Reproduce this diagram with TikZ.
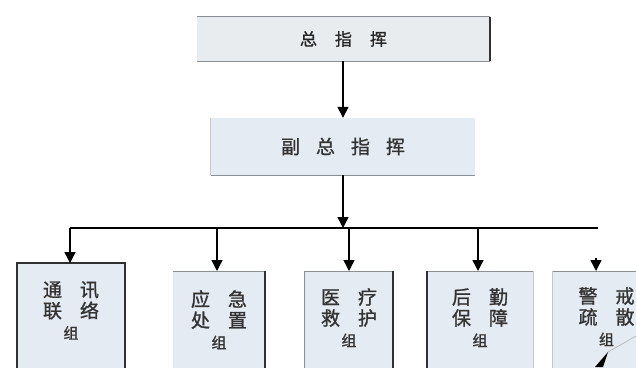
\documentclass[tikz,border=0pt]{standalone}
\usepackage{fontspec}
\newfontfamily\cjk[AutoFakeBold=1.2]{Noto Sans CJK SC}
\usetikzlibrary{arrows.meta}
\definecolor{boxfill}{HTML}{E5EBF2}
\definecolor{topfill}{HTML}{E9ECEF}
\definecolor{edgegray}{HTML}{8A8F96}
\definecolor{edgedark}{HTML}{303030}
\newcommand{\gapp}{\hspace{18pt}}
\newcommand{\zu}{{\fontsize{15pt}{17pt}\selectfont 组}}
\begin{document}
\begin{tikzpicture}[x=1pt,y=-1pt,
  arr/.style={line width=1.4pt, draw=black, -{Triangle[width=11pt,length=11pt]}},
  plainline/.style={line width=1.4pt, draw=black},
  headbox/.style={rectangle, fill=topfill, draw=none, inner sep=0pt, font=\cjk\bfseries\fontsize{17pt}{20pt}\selectfont, text=black!85},
  subbox/.style={rectangle, fill=boxfill, draw=none, inner sep=0pt, font=\cjk\bfseries\fontsize{19pt}{22pt}\selectfont, text=black!80},
  grpbox/.style={rectangle, fill=boxfill, draw=none, inner sep=0pt, minimum height=110pt, anchor=north},
  grptext/.style={align=center, inner sep=0pt, font=\cjk\bfseries\fontsize{19pt}{21pt}\selectfont, text=black!80},
  edgeL/.style={draw=edgegray, line width=0.8pt},
  edgeD/.style={draw=edgedark, line width=1.8pt}
]
\useasboundingbox (0,0) rectangle (636,367);

% top box
\node[headbox, minimum width=293pt, minimum height=44pt] (top) at (343.5,39) {总\hspace{18pt}指\hspace{18pt}挥};
\draw[edgeL] (top.north west) -- (top.north east);
\draw[edgeL] (top.south west) -- (top.south east);
\draw[edgeD] (top.north east) -- (top.south east);

% sub box
\node[subbox, minimum width=264pt, minimum height=57pt] (sub) at (343,146.5) {副\hspace{16pt}总\hspace{16pt}指\hspace{16pt}挥};
\draw[edgeL] (sub.south west) -- (sub.south east);
\draw[edgeL, draw=edgegray!50] (sub.north west) -- (sub.south west);

% bus
\coordinate (bus) at (343,228);
\coordinate (d1) at (70,228);
\coordinate (d2) at (217,228);
\coordinate (d3) at (349,228);
\coordinate (d4) at (478,228);
\coordinate (d5) at (598,228);

\draw[arr] (top.south -| bus) -- (sub.north -| bus);
\draw[arr] (sub.south -| bus) -- (bus);
\draw[plainline] (d1) -- (d5);

% group boxes
\node[grpbox, minimum width=108pt] (b1) at (71,263) {};
\node[grpbox, minimum width=92pt]  (b2) at (219,271) {};
\node[grpbox, minimum width=88pt]  (b3) at (349,271) {};
\node[grpbox, minimum width=106pt] (b4) at (480,271) {};
\node[grpbox, minimum width=107pt] (b5) at (606.5,271) {};

% borders
\draw[edgeD] (b1.south west) -- (b1.north west) -- (b1.north east) -- (b1.south east);
\draw[edgeL] (b2.north west) -- (b2.north east);
\draw[edgeD] (b2.north east) -- (b2.south east);
\draw[edgeL] (b3.north west) -- (b3.north east);
\draw[edgeL] (b3.north west) -- (b3.south west);
\draw[edgeD] (b3.north east) -- (b3.south east);
\draw[edgeL] (b4.north west) -- (b4.north east);
\draw[edgeD] (b4.north west) -- (b4.south west);
\draw[edgeL, draw=edgegray!50] (b4.north east) -- (b4.south east);
\draw[edgeL] (b5.north west) -- (b5.north east);
\draw[edgeL, draw=edgegray!50] (b5.north west) -- (b5.south west);

% drops
\draw[arr] (d1) -- (d1 |- b1.north);
\draw[arr] (d2) -- (d2 |- b2.north);
\draw[arr] (d3) -- (d3 |- b3.north);
\draw[arr] (d4) -- (d4 |- b4.north);
\coordinate (d5s) at (596,258);
\draw[arr] (d5s) -- (d5s |- b5.north);

% texts
\node[grptext, anchor=north] (t1) at ([yshift=-18pt]b1.north) {通\gapp 讯\\联\gapp 络\\\zu};
\node[grptext, anchor=north] (t2) at ([yshift=-19pt]b2.north) {应\gapp 急\\处\gapp 置\\\zu};
\node[grptext, anchor=north] (t3) at ([yshift=-17pt]b3.north) {医\gapp 疗\\救\gapp 护\\\zu};
\node[grptext, anchor=north] (t4) at ([yshift=-17pt]b4.north) {后\gapp 勤\\保\gapp 障\\\zu};
\node[grptext, anchor=north] (t5) at ([yshift=-16pt]b5.north) {警\gapp 戒\\疏\gapp 散\\\zu};

% small black wedge at bottom of last box
\fill[black] (595,367) -- (608,352) -- (603,367) -- cycle;
\draw[draw=gray!60, line width=0.6pt] (608,352) -- (636,336);
\end{tikzpicture}
\end{document}
